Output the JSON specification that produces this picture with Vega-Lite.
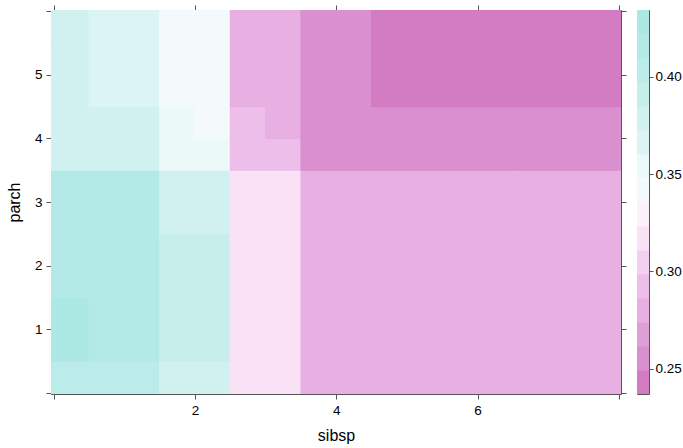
{
  "$schema": "https://vega.github.io/schema/vega-lite/v6.json",
  "padding": {"left": 5, "top": 4, "right": 5, "bottom": 5},
  "background": "white",
  "spacing": 16,
  "bounds": "flush",
  "config": {
    "font": "Liberation Sans",
    "view": {"stroke": "#555555", "strokeWidth": 1},
    "axis": {
      "grid": false,
      "domain": false,
      "tickColor": "#555555",
      "tickSize": 5,
      "labelFontSize": 13.5,
      "labelColor": "#000000",
      "titleFontSize": 16,
      "titleFontWeight": "normal",
      "titleColor": "#000000"
    }
  },
  "resolve": {"scale": {"x": "independent", "y": "independent", "color": "independent", "stroke": "independent"}},
  "hconcat": [
    {
      "width": 570,
      "height": 384,
      "data": {
        "values": [
          {"x0": -0.5, "x1": 0.5, "y0": -0.5, "y1": 0.5, "z": 0.404},
          {"x0": 0.5, "x1": 1.5, "y0": -0.5, "y1": 0.5, "z": 0.404},
          {"x0": 1.5, "x1": 2.5, "y0": -0.5, "y1": 0.5, "z": 0.379},
          {"x0": 2.5, "x1": 3.5, "y0": -0.5, "y1": 0.5, "z": 0.317},
          {"x0": 3.5, "x1": 4.5, "y0": -0.5, "y1": 0.5, "z": 0.28},
          {"x0": 4.5, "x1": 5.5, "y0": -0.5, "y1": 0.5, "z": 0.28},
          {"x0": 5.5, "x1": 6.5, "y0": -0.5, "y1": 0.5, "z": 0.28},
          {"x0": 6.5, "x1": 7.5, "y0": -0.5, "y1": 0.5, "z": 0.28},
          {"x0": 7.5, "x1": 8.5, "y0": -0.5, "y1": 0.5, "z": 0.28},

          {"x0": -0.5, "x1": 0.5, "y0": 0.5, "y1": 1.5, "z": 0.428},
          {"x0": 0.5, "x1": 1.5, "y0": 0.5, "y1": 1.5, "z": 0.416},
          {"x0": 1.5, "x1": 2.5, "y0": 0.5, "y1": 1.5, "z": 0.391},
          {"x0": 2.5, "x1": 3.5, "y0": 0.5, "y1": 1.5, "z": 0.317},
          {"x0": 3.5, "x1": 4.5, "y0": 0.5, "y1": 1.5, "z": 0.28},
          {"x0": 4.5, "x1": 5.5, "y0": 0.5, "y1": 1.5, "z": 0.28},
          {"x0": 5.5, "x1": 6.5, "y0": 0.5, "y1": 1.5, "z": 0.28},
          {"x0": 6.5, "x1": 7.5, "y0": 0.5, "y1": 1.5, "z": 0.28},
          {"x0": 7.5, "x1": 8.5, "y0": 0.5, "y1": 1.5, "z": 0.28},

          {"x0": -0.5, "x1": 0.5, "y0": 1.5, "y1": 2.5, "z": 0.416},
          {"x0": 0.5, "x1": 1.5, "y0": 1.5, "y1": 2.5, "z": 0.416},
          {"x0": 1.5, "x1": 2.5, "y0": 1.5, "y1": 2.5, "z": 0.391},
          {"x0": 2.5, "x1": 3.5, "y0": 1.5, "y1": 2.5, "z": 0.317},
          {"x0": 3.5, "x1": 4.5, "y0": 1.5, "y1": 2.5, "z": 0.28},
          {"x0": 4.5, "x1": 5.5, "y0": 1.5, "y1": 2.5, "z": 0.28},
          {"x0": 5.5, "x1": 6.5, "y0": 1.5, "y1": 2.5, "z": 0.28},
          {"x0": 6.5, "x1": 7.5, "y0": 1.5, "y1": 2.5, "z": 0.28},
          {"x0": 7.5, "x1": 8.5, "y0": 1.5, "y1": 2.5, "z": 0.28},

          {"x0": -0.5, "x1": 0.5, "y0": 2.5, "y1": 3.5, "z": 0.416},
          {"x0": 0.5, "x1": 1.5, "y0": 2.5, "y1": 3.5, "z": 0.416},
          {"x0": 1.5, "x1": 2.5, "y0": 2.5, "y1": 3.5, "z": 0.379},
          {"x0": 2.5, "x1": 3.5, "y0": 2.5, "y1": 3.5, "z": 0.317},
          {"x0": 3.5, "x1": 4.5, "y0": 2.5, "y1": 3.5, "z": 0.28},
          {"x0": 4.5, "x1": 5.5, "y0": 2.5, "y1": 3.5, "z": 0.28},
          {"x0": 5.5, "x1": 6.5, "y0": 2.5, "y1": 3.5, "z": 0.28},
          {"x0": 6.5, "x1": 7.5, "y0": 2.5, "y1": 3.5, "z": 0.28},
          {"x0": 7.5, "x1": 8.5, "y0": 2.5, "y1": 3.5, "z": 0.28},

          {"x0": -0.5, "x1": 0.5, "y0": 3.5, "y1": 4.5, "z": 0.379},
          {"x0": 0.5, "x1": 1.5, "y0": 3.5, "y1": 4.5, "z": 0.379},
          {"x0": 1.5, "x1": 2.5, "y0": 3.5, "y1": 4.0, "z": 0.354},
          {"x0": 1.5, "x1": 2.0, "y0": 4.0, "y1": 4.5, "z": 0.354},
          {"x0": 2.0, "x1": 2.5, "y0": 4.0, "y1": 4.5, "z": 0.342},
          {"x0": 2.5, "x1": 3.5, "y0": 3.5, "y1": 4.0, "z": 0.293},
          {"x0": 2.5, "x1": 3.0, "y0": 4.0, "y1": 4.5, "z": 0.293},
          {"x0": 3.0, "x1": 3.5, "y0": 4.0, "y1": 4.5, "z": 0.28},
          {"x0": 3.5, "x1": 4.5, "y0": 3.5, "y1": 4.5, "z": 0.256},
          {"x0": 4.5, "x1": 5.5, "y0": 3.5, "y1": 4.5, "z": 0.256},
          {"x0": 5.5, "x1": 6.5, "y0": 3.5, "y1": 4.5, "z": 0.256},
          {"x0": 6.5, "x1": 7.5, "y0": 3.5, "y1": 4.5, "z": 0.256},
          {"x0": 7.5, "x1": 8.5, "y0": 3.5, "y1": 4.5, "z": 0.256},

          {"x0": -0.5, "x1": 0.5, "y0": 4.5, "y1": 5.5, "z": 0.379},
          {"x0": 0.5, "x1": 1.5, "y0": 4.5, "y1": 5.5, "z": 0.367},
          {"x0": 1.5, "x1": 2.5, "y0": 4.5, "y1": 5.5, "z": 0.342},
          {"x0": 2.5, "x1": 3.5, "y0": 4.5, "y1": 5.5, "z": 0.28},
          {"x0": 3.5, "x1": 4.5, "y0": 4.5, "y1": 5.5, "z": 0.256},
          {"x0": 4.5, "x1": 5.5, "y0": 4.5, "y1": 5.5, "z": 0.243},
          {"x0": 5.5, "x1": 6.5, "y0": 4.5, "y1": 5.5, "z": 0.243},
          {"x0": 6.5, "x1": 7.5, "y0": 4.5, "y1": 5.5, "z": 0.243},
          {"x0": 7.5, "x1": 8.5, "y0": 4.5, "y1": 5.5, "z": 0.243},

          {"x0": -0.5, "x1": 0.5, "y0": 5.5, "y1": 6.5, "z": 0.379},
          {"x0": 0.5, "x1": 1.5, "y0": 5.5, "y1": 6.5, "z": 0.367},
          {"x0": 1.5, "x1": 2.5, "y0": 5.5, "y1": 6.5, "z": 0.342},
          {"x0": 2.5, "x1": 3.5, "y0": 5.5, "y1": 6.5, "z": 0.28},
          {"x0": 3.5, "x1": 4.5, "y0": 5.5, "y1": 6.5, "z": 0.256},
          {"x0": 4.5, "x1": 5.5, "y0": 5.5, "y1": 6.5, "z": 0.243},
          {"x0": 5.5, "x1": 6.5, "y0": 5.5, "y1": 6.5, "z": 0.243},
          {"x0": 6.5, "x1": 7.5, "y0": 5.5, "y1": 6.5, "z": 0.243},
          {"x0": 7.5, "x1": 8.5, "y0": 5.5, "y1": 6.5, "z": 0.243}
        ]
      },
      "resolve": {"axis": {"x": "independent", "y": "independent"}},
      "layer": [
        {
          "mark": {"type": "rect", "clip": true, "strokeWidth": 1.3},
          "encoding": {
            "x": {
              "field": "x0", "type": "quantitative",
              "scale": {"domain": [-0.04, 8.03], "nice": false, "zero": false},
              "axis": {"orient": "bottom", "values": [0, 2, 4, 6, 8], "labelExpr": "datum.value == 0 || datum.value == 8 ? '' : datum.label", "title": "sibsp", "labelPadding": 4, "titlePadding": 11}
            },
            "x2": {"field": "x1"},
            "y": {
              "field": "y0", "type": "quantitative",
              "scale": {"domain": [-0.016, 6.016], "nice": false, "zero": false},
              "axis": {"orient": "left", "values": [0, 1, 2, 3, 4, 5, 6], "labelExpr": "datum.value == 0 || datum.value == 6 ? '' : datum.label", "title": "parch", "labelPadding": 4, "titlePadding": 12}
            },
            "y2": {"field": "y1"},
            "color": {
              "field": "z", "type": "quantitative",
              "scale": {"type": "quantize", "domain": [0.237, 0.4344], "nice": false, "range": ["#d47cc3", "#da8fce", "#df9fd7", "#e8b0e2", "#edbeea", "#f3cff0", "#f9e2f6", "#fcf0fb", "#f4fafc", "#ecf9f9", "#dcf4f5", "#d1f1f1", "#c6efec", "#bcece9", "#b3eae7", "#ace8e4"]},
              "legend": null
            },
            "stroke": {
              "field": "z", "type": "quantitative",
              "scale": {"type": "quantize", "domain": [0.237, 0.4344], "nice": false, "range": ["#d47cc3", "#da8fce", "#df9fd7", "#e8b0e2", "#edbeea", "#f3cff0", "#f9e2f6", "#fcf0fb", "#f4fafc", "#ecf9f9", "#dcf4f5", "#d1f1f1", "#c6efec", "#bcece9", "#b3eae7", "#ace8e4"]},
              "legend": null
            }
          }
        },
        {
          "mark": {"type": "point", "opacity": 0, "clip": true},
          "encoding": {
            "x": {"field": "x0", "type": "quantitative", "axis": {"orient": "top", "values": [0, 2, 4, 6, 8], "labels": false, "title": null}},
            "y": {"field": "y0", "type": "quantitative", "axis": {"orient": "right", "values": [0, 1, 2, 3, 4, 5, 6], "labels": false, "title": null}}
          }
        }
      ]
    },
    {
      "width": 12,
      "height": 384,
      "data": {
        "values": [
          {"lo": 0.237, "hi": 0.2493, "mid": 0.243},
          {"lo": 0.2493, "hi": 0.2617, "mid": 0.256},
          {"lo": 0.2617, "hi": 0.274, "mid": 0.268},
          {"lo": 0.274, "hi": 0.2864, "mid": 0.28},
          {"lo": 0.2864, "hi": 0.2987, "mid": 0.293},
          {"lo": 0.2987, "hi": 0.311, "mid": 0.305},
          {"lo": 0.311, "hi": 0.3234, "mid": 0.317},
          {"lo": 0.3234, "hi": 0.3357, "mid": 0.33},
          {"lo": 0.3357, "hi": 0.348, "mid": 0.342},
          {"lo": 0.348, "hi": 0.3604, "mid": 0.354},
          {"lo": 0.3604, "hi": 0.3727, "mid": 0.367},
          {"lo": 0.3727, "hi": 0.3851, "mid": 0.379},
          {"lo": 0.3851, "hi": 0.3974, "mid": 0.391},
          {"lo": 0.3974, "hi": 0.4097, "mid": 0.404},
          {"lo": 0.4097, "hi": 0.4221, "mid": 0.416},
          {"lo": 0.4221, "hi": 0.4344, "mid": 0.428}
        ]
      },
      "mark": {"type": "rect", "strokeWidth": 1, "clip": true},
      "encoding": {
        "x": {"datum": 0, "type": "quantitative", "scale": {"domain": [0, 1], "nice": false, "zero": false}, "axis": null},
        "x2": {"datum": 1},
        "y": {
          "field": "lo", "type": "quantitative",
          "scale": {"domain": [0.237, 0.4344], "nice": false, "zero": false},
          "axis": {"orient": "right", "values": [0.25, 0.3, 0.35, 0.4], "format": ".2f", "title": null, "tickSize": 4, "labelPadding": 2}
        },
        "y2": {"field": "hi"},
        "color": {
          "field": "mid", "type": "quantitative",
          "scale": {"type": "quantize", "domain": [0.237, 0.4344], "nice": false, "range": ["#d47cc3", "#da8fce", "#df9fd7", "#e8b0e2", "#edbeea", "#f3cff0", "#f9e2f6", "#fcf0fb", "#f4fafc", "#ecf9f9", "#dcf4f5", "#d1f1f1", "#c6efec", "#bcece9", "#b3eae7", "#ace8e4"]},
          "legend": null
        },
        "stroke": {
          "field": "mid", "type": "quantitative",
          "scale": {"type": "quantize", "domain": [0.237, 0.4344], "nice": false, "range": ["#d47cc3", "#da8fce", "#df9fd7", "#e8b0e2", "#edbeea", "#f3cff0", "#f9e2f6", "#fcf0fb", "#f4fafc", "#ecf9f9", "#dcf4f5", "#d1f1f1", "#c6efec", "#bcece9", "#b3eae7", "#ace8e4"]},
          "legend": null
        }
      }
    }
  ]
}
